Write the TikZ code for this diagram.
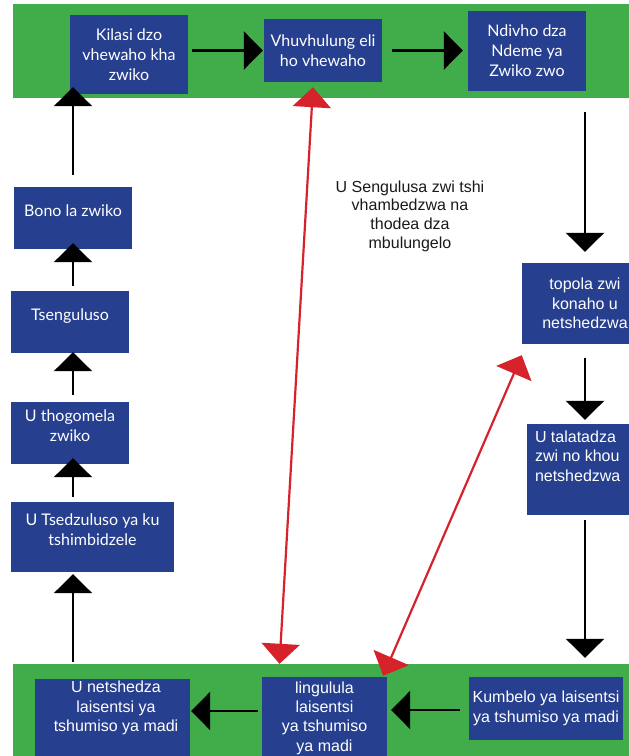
\documentclass[tikz,border=0pt]{standalone}
\usepackage{fontspec}
\setmainfont{Liberation Sans}
\newfontfamily\gill{Lato}
\usetikzlibrary{calc}
\usetikzlibrary{arrows.meta}
\definecolor{bandgreen}{RGB}{64,173,74}
\definecolor{boxblue}{RGB}{38,64,143}
\definecolor{arrred}{RGB}{213,34,43}
\tikzset{
	box/.style={fill=boxblue, text=white, align=center, inner sep=0pt},
	gillbox/.style={box, font=\gill\fontsize{16}{20}\selectfont},
	colbox/.style={gillbox, text depth=15pt},
	helvbox/.style={box, font=\fontsize{16}{19.3}\selectfont},
	boxtext/.style={text=white, inner sep=0pt, font=\fontsize{16}{19.3}\selectfont},
	arr/.style={line width=2.5pt, -{Triangle[width=38pt,length=19pt]}},
	redarr/.style={draw=arrred, line width=2.2pt, {Triangle[width=38pt,length=20pt]}-{Triangle[width=38pt,length=20pt]}},
}

\begin{document}
\begin{tikzpicture}[x=1pt,y=-1pt]
		\useasboundingbox (0,0) rectangle (629,756);
		\clip (0,0) rectangle (629,756);
		\fill[bandgreen] (13,4) rectangle (640,98);
		\fill[bandgreen] (13,664) rectangle (640,770);
		\node[gillbox, minimum width=118pt, minimum height=79pt] (kilasi) at (129,54.5) {Kilasi dzo\\vhewaho kha\\zwiko};
		\node[gillbox, minimum width=118pt, minimum height=63pt] (vhuvhu) at (323,50.5) {Vhuvhulung eli\\ho vhewaho};
		\node[gillbox, minimum width=118pt, minimum height=80pt] (ndivho) at (527,51) {Ndivho dza\\Ndeme ya\\Zwiko zwo};
		\node[helvbox, minimum width=126pt, minimum height=81pt] (topola) at (585,303.5) {topola zwi\\konaho u\\netshedzwa};
		\node[box, minimum width=113pt, minimum height=91pt] (talata) at (583.5,469.5) {};
		\node[boxtext, anchor=north west, align=left] (talatatxt) at ($ (talata.north west) + (8,7) $) {U talatadza\\zwi no khou\\netshedzwa};
		\node[helvbox, minimum width=154pt, minimum height=63pt] (kumbelo) at (546,708.5) {Kumbelo ya laisentsi\\ya tshumiso ya madi};
		\node[helvbox, minimum width=125pt, minimum height=82pt] (ingu) at (324.5,718) {lingulula\\laisentsi\\ya tshumiso\\ya madi};
		\node[box, minimum width=155pt, minimum height=81pt] (netsh) at (112.5,719.5) {};
		\node[boxtext, anchor=north, align=center] (netshtxt) at ($ (netsh.north) + (3.5,2.3) $) {U netshedza\\laisentsi ya\\tshumiso ya madi};
		\node[colbox, minimum width=163pt, minimum height=70pt] (tsedz) at (92.5,537) {U Tsedzuluso ya ku\\tshimbidzele};
		\node[colbox, minimum width=118pt, minimum height=62pt] (thogo) at (70,433) {U thogomela\\zwiko};
		\node[colbox, minimum width=118pt, minimum height=62pt] (tseng) at (70,322) {Tsenguluso};
		\node[colbox, minimum width=118pt, minimum height=62pt] (bono) at (73,218) {Bono la zwiko};
		\node[align=center, text=black!90, font=\fontsize{16}{18.7}\selectfont] (sengu) at (410,216) {U Sengulusa zwi tshi\\vhambedzwa na\\thodea dza\\mbulungelo};
		\draw[arr] ($ (kilasi.east |- vhuvhu.west) + (4,0) $) -- ($ (vhuvhu.west) + (-1,0) $);
		\draw[arr] ($ (vhuvhu.east) + (10,0) $) -- ($ (ndivho.west |- vhuvhu.east) + (-5,0) $);
		\draw[arr] ($ (ndivho.south -| topola) + (0,21) $) -- ($ (topola.north) + (0,-11) $);
		\draw[arr] ($ (topola.south) + (0,14) $) -- ($ (talata.north -| topola) + (0,-4) $);
		\draw[arr] ($ (talata.south -| topola) + (0,5) $) -- ($ (kumbelo.north -| topola) + (0,-19) $);
		\draw[arr] ($ (kumbelo.west) + (-9,1.5) $) -- ($ (ingu.east |- kumbelo.west) + (4,1.5) $);
		\draw[arr] ($ (ingu.west |- kumbelo.west) + (-4,2.5) $) -- ($ (netsh.east |- kumbelo.west) + (1,2.5) $);
		\draw[arr] ($ (netsh.north -| bono) + (0,-17) $) -- ($ (tsedz.south -| bono) + (0,2) $);
		\draw[arr] ($ (tsedz.north -| bono) + (0,-5) $) -- ($ (thogo.south -| bono) + (0,-6) $);
		\draw[arr] ($ (thogo.north -| bono) + (0,-7) $) -- ($ (tseng.south -| bono) + (0,-1) $);
		\draw[arr] ($ (tseng.north -| bono) + (0,-5) $) -- ($ (bono.south) + (0,-6) $);
		\draw[arr] ($ (bono.north) + (0,-12) $) -- ($ (kilasi.south -| bono) + (0,-7) $);
		\draw[redarr] ($ (vhuvhu.south) + (-10,5) $) -- ($ (ingu.north) + (-45,-13) $);
		\draw[redarr] ($ (topola.south west) + (0,11) $) -- ($ (ingu.north east) + (-4,-1) $);
	\end{tikzpicture}
\end{document}
